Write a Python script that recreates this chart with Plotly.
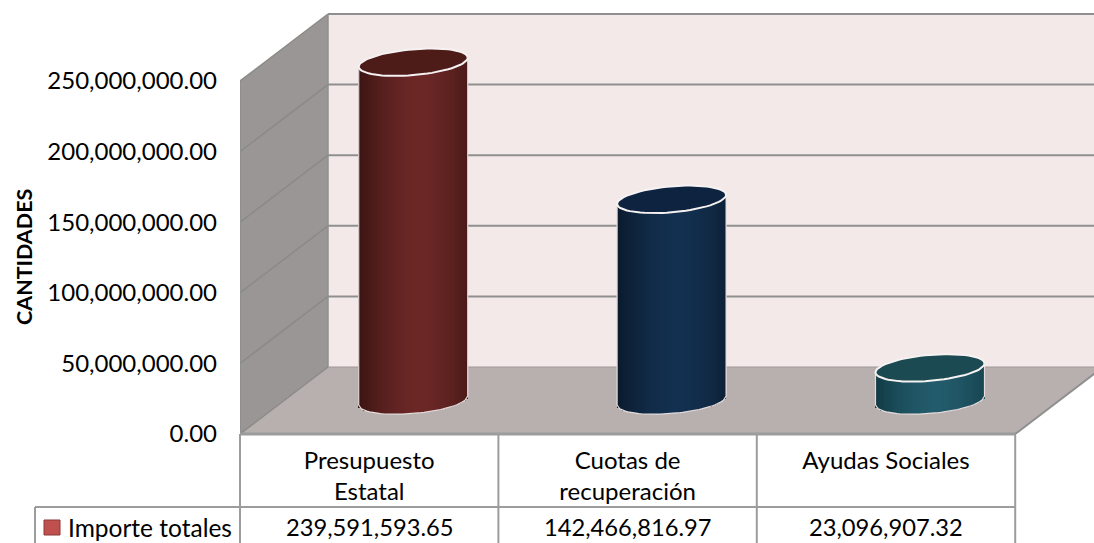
import math
import plotly.graph_objects as go

# ---- data ----
categories = ["Presupuesto<br>Estatal", "Cuotas de<br>recuperación", "Ayudas Sociales"]
series_name = "Importe totales"
values = [239591593.65, 142466816.97, 23096907.32]
y_ticks = [0, 50000000, 100000000, 150000000, 200000000, 250000000]

# ---- colours: (edge, highlight, top) for each cylinder ----
edge_colors = [(58, 20, 18), (10, 26, 44), (17, 58, 68)]
mid_colors = [(107, 39, 38), (19, 48, 80), (34, 91, 107)]
top_colors = ["#4d1b18", "#0d2340", "#1c4a52"]

# ---- geometry (pixels) ----
W, H = 1094, 543
L, B = 240, 109
CAT_W = 258.4
PX_Y = 250000000 / 353.0     # data units per pixel
DX, DY = 88, 67              # depth of the 3-D box
RX, TILT, RY = 54.5, 4.5, 13.0
N = 44

ux = lambda p: p / CAT_W
uy = lambda p: p * PX_Y
px = lambda p: (p - L) / (W - L)
py = lambda p: (H - B - p) / (H - B)
FONT = "Lato"
TXT = "#000000"
EDGE = "#9c9c9c"
x_max = ux(W - L)
y_max = uy(H - B)
x_back = ux(DX)
y_back = uy(DY)
top = y_ticks[-1]

shapes = []
def poly(pts, fill):
    path = "M " + " L ".join(f"{x},{y}" for x, y in pts) + " Z"
    shapes.append(dict(type="path", path=path, fillcolor=fill, line=dict(width=0),
                       xref="x", yref="y", layer="below"))
def seg(x0, y0, x1, y1, color="#8f8f8f", width=2):
    shapes.append(dict(type="line", x0=x0, y0=y0, x1=x1, y1=y1, xref="x", yref="y",
                       line=dict(color=color, width=width), layer="below"))
def rule(x0, y0, x1, y1, width=2):
    shapes.append(dict(type="line", x0=px(x0), x1=px(x1), y0=py(y0), y1=py(y1),
                       xref="paper", yref="paper", line=dict(color=EDGE, width=width)))

# walls and floor
poly([(x_back, y_back), (x_max + 1, y_back), (x_max + 1, y_back + top), (x_back, y_back + top)], "#f4e9e9")
poly([(0, 0), (x_back, y_back), (x_back, y_back + top), (0, top)], "#9b9696")
poly([(0, 0), (x_back, y_back), (x_max + 1, y_back), (3 + x_back, y_back), (3, 0)], "#b8afaf")
for v in y_ticks[1:]:
    seg(0, v, x_back, v + y_back, "#8a8a86", 1.5)
    seg(x_back, v + y_back, x_max + 1, v + y_back)
seg(0, 0, x_back, y_back, "#8a8a86", 1.5)
seg(x_back, y_back, x_max + 1, y_back, "#a09a9a", 1)
seg(x_back, y_back, x_back, y_back + top, "#8f8f8f", 1.5)
seg(3, 0, 3 + x_back * 1.2, y_back * 1.2, "#8f8f8f", 2)
seg(0, 0, 0, top, "#8f8f8f", 2)

# table rules below the axis
for c in range(4):
    rule(L + c * CAT_W, H - B, L + c * CAT_W, H + 2)
rule(L, H - B, L + 3 * CAT_W, H - B, 3)
rule(35, 507, L + 3 * CAT_W, 507)
rule(35, 507, 35, H + 2)
# legend key
shapes.append(dict(type="rect", x0=px(44), x1=px(60), y0=py(520), y1=py(535), xref="paper", yref="paper",
                   fillcolor="#c0504d", line=dict(color="#8c3836", width=1)))

fig = go.Figure()

# cylinders: body built from narrow bars so that it shows the shading
for i, v in enumerate(values):
    cx = i + 0.5 + ux(DX / 2)
    base0 = uy(DY / 2)
    xs, ys, bs, cols, ws = [], [], [], [], []
    for k in range(N):
        t = (k + 0.5) / N
        u = 2 * t - 1
        s = 1 - min(1, abs(t - 0.56) / 0.56) ** 1.7
        c = tuple(round(a + (b - a) * s) for a, b in zip(edge_colors[i], mid_colors[i]))
        low = base0 + uy(TILT * u - RY * math.sqrt(1 - u * u))
        high = base0 + v + uy(TILT * u)
        xs.append(cx + ux(RX) * u)
        ys.append(high - low)
        bs.append(low)
        ws.append(ux(2 * RX / N) * 1.25)
        cols.append(f"rgb{c}")
    fig.add_trace(go.Bar(x=xs, y=ys, base=bs, width=ws, name=categories[i].replace("<br>", " "),
                         marker=dict(color=cols, line=dict(width=0)),
                         showlegend=False, hoverinfo="skip"))
    # outline of the body
    arc = [j / 40 for j in range(41)]
    ox = [cx - ux(RX)] + [cx + ux(RX) * (2 * a - 1) for a in arc] + [cx + ux(RX)]
    oy = [base0 + v + uy(-TILT)] + \
         [base0 + uy(TILT * (2 * a - 1) - RY * math.sqrt(max(0, 1 - (2 * a - 1) ** 2))) for a in arc] + \
         [base0 + v + uy(TILT)]
    fig.add_trace(go.Scatter(x=ox, y=oy, mode="lines", line=dict(color="#e4dcdc", width=1.2),
                             showlegend=False, hoverinfo="skip"))
    # top ellipse
    ts = [2 * math.pi * j / 72 for j in range(73)]
    ex = [cx + ux(RX) * math.cos(t) for t in ts]
    ey = [base0 + v + uy(TILT * math.cos(t) + RY * math.sin(t)) for t in ts]
    fig.add_trace(go.Scatter(x=ex, y=ey, mode="lines", fill="toself", fillcolor=top_colors[i],
                             line=dict(color="#f6f2f2", width=2),
                             showlegend=False, hoverinfo="skip"))

annotations = [
    dict(text=series_name, x=px(66), y=py(527), xref="paper", yref="paper", xanchor="left", yanchor="middle",
         showarrow=False, font=dict(family=FONT, size=24.5, color=TXT)),
    dict(text="<b>CANTIDADES</b>", x=px(24), y=py(257), xref="paper", yref="paper", xanchor="center",
         yanchor="middle", textangle=-90, showarrow=False, font=dict(family=FONT, size=21.5, color=TXT)),
]
for i, v in enumerate(values):
    annotations.append(dict(text=f"{v:,.2f}", x=i + 0.5, y=py(527), xref="x", yref="paper",
                            xanchor="center", yanchor="middle", showarrow=False,
                            font=dict(family=FONT, size=23.7, color=TXT)))

fig.update_layout(
    width=W, height=H, margin=dict(l=L, r=0, t=0, b=B, autoexpand=False),
    paper_bgcolor="white", plot_bgcolor="white", barmode="overlay", bargap=0,
    showlegend=False, shapes=shapes, annotations=annotations,
    xaxis=dict(range=[0, x_max], tickmode="array", tickvals=[0.5, 1.5, 2.5], ticktext=categories,
               showgrid=False, zeroline=False, showline=False, ticks="", ticklabelstandoff=10,
               tickangle=0, tickfont=dict(family=FONT, size=24, color=TXT)),
    yaxis=dict(range=[0, y_max], tickmode="array", tickvals=y_ticks, tickformat=",.2f",
               showgrid=False, zeroline=False, showline=False, ticks="", ticklabelstandoff=22,
               tickfont=dict(family=FONT, size=24, color=TXT)),
)
fig.write_html("out.html", config=dict(displayModeBar=False),
               post_script="document.body.style.margin='0';document.body.style.overflow='hidden';")
